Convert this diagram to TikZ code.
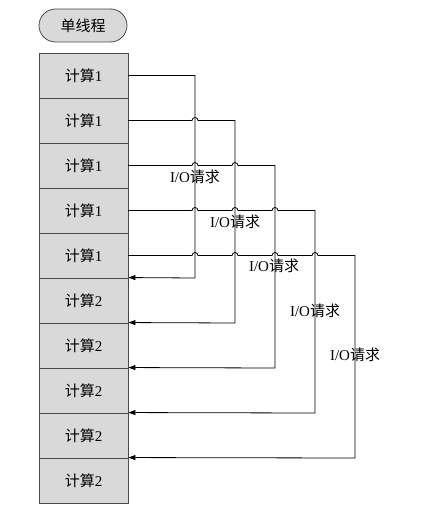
\documentclass[tikz,border=0pt]{standalone}
\usepackage{fontspec}
\setmainfont{Liberation Serif}
\newfontfamily\cjk{Noto Sans CJK SC}
\usetikzlibrary{arrows.meta,shapes.misc}
\definecolor{cellgray}{HTML}{D9D9D9}
\definecolor{edgegray}{HTML}{4A4A4A}
\tikzset{
  cell/.style={draw=edgegray, fill=cellgray, line width=0.9pt, minimum width=89pt, minimum height=45pt, inner sep=0pt, font=\fontsize{15}{17}\selectfont},
  titlebox/.style={draw=edgegray, fill=cellgray, line width=0.8pt, rounded rectangle, minimum width=88pt, minimum height=33pt, inner sep=0pt, font=\fontsize{15}{17}\selectfont},
  conn/.style={draw=black, line width=0.8pt, -{Triangle[length=7pt,width=5pt]}},
  iolabel/.style={font=\fontsize{15}{17}\selectfont, inner sep=0pt},
}
\newcommand{\hopr}{arc[start angle=180,end angle=0,radius=3pt]}
\begin{document}
\begin{tikzpicture}[x=1pt,y=-1pt]
\useasboundingbox (0,0) rectangle (422,511);
\node[titlebox] (title) at (83,25.5) {\cjk 单线程};
\foreach \i in {1,...,5} {
  \node[cell] (c\i) at (83.5,{75.5+45*(\i-1)}) {\cjk 计算\rmfamily 1};
}
\foreach \i in {6,...,10} {
  \node[cell] (c\i) at (83.5,{75.5+45*(\i-1)}) {\cjk 计算\rmfamily 2};
}
% connectors
\draw[conn] (c1.east) -- (195,75.5) -- (195,278) -- (c6.north east);
\draw[conn] (c2.east) -- (192,120.5) \hopr -- (235,120.5) -- (235,323) -- (c7.north east);
\draw[conn] (c3.east) -- (192,165.5) \hopr -- (232,165.5) \hopr -- (275,165.5) -- (275,368) -- (c8.north east);
\draw[conn] (c4.east) -- (192,210.5) \hopr -- (232,210.5) \hopr -- (272,210.5) \hopr -- (315,210.5) -- (315,413) -- (c9.north east);
\draw[conn] (c5.east) -- (192,255.5) \hopr -- (232,255.5) \hopr -- (272,255.5) \hopr -- (312,255.5) \hopr -- (355,255.5) -- (355,458) -- (c10.north east);
% labels
\node[iolabel] (l1) at (195,177) {I/O\cjk 请求};
\node[iolabel] (l2) at (235,222) {I/O\cjk 请求};
\node[iolabel] (l3) at (274,266) {I/O\cjk 请求};
\node[iolabel] (l4) at (315,311) {I/O\cjk 请求};
\node[iolabel] (l5) at (355,355) {I/O\cjk 请求};
\end{tikzpicture}
\end{document}
